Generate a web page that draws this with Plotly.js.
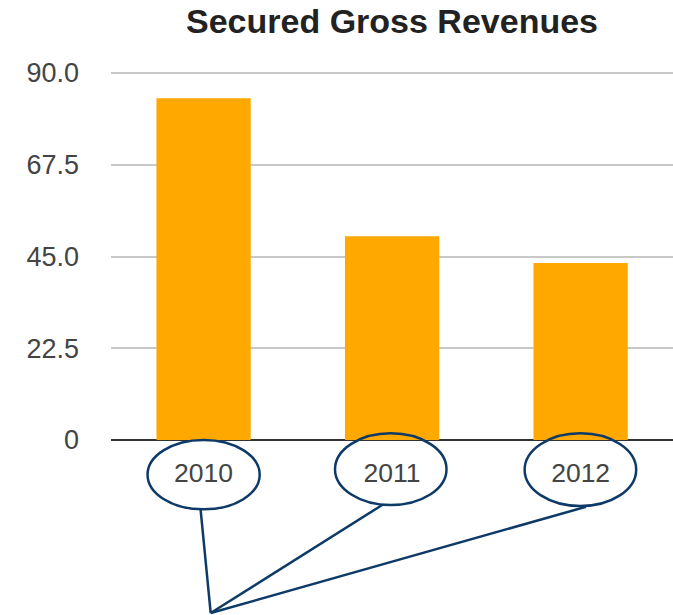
<!DOCTYPE html>
<html>
<head>
<meta charset="utf-8">
<script src="https://cdn.plot.ly/plotly-3.0.1.min.js"></script>
<style>html,body{margin:0;padding:0;background:#fff;}#chart{width:673px;height:615px;}</style>
</head>
<body>
<div id="chart"></div>
<script>
var categories = ['2010', '2011', '2012'];
var revenues = [83.8, 50.0, 43.4];
var yTickVals = [0, 22.5, 45, 67.5, 90];
var yTickText = ['0', '22.5', '45.0', '67.5', '90.0'];
var chartTitle = 'Secured Gross Revenues';

var navy = '#0E3A68';
// annotation overlay (paper coords; plot area spans y 71..440 px)
var ellipses = [
  [0.065, -0.188, 0.2646, 0.0],
  [0.3986, -0.176, 0.597, 0.018],
  [0.736, -0.179, 0.9345, 0.018]
];
var lineStarts = [[0.1594, -0.188], [0.4826, -0.176], [0.8452, -0.181]];
var lineEnd = [0.1774, -0.469];

var shapes = [];
ellipses.forEach(function (e) {
  shapes.push({type: 'circle', xref: 'paper', yref: 'paper', x0: e[0], y0: e[1], x1: e[2], y1: e[3],
    line: {color: navy, width: 2.5}, fillcolor: 'rgba(0,0,0,0)'});
});
lineStarts.forEach(function (s) {
  shapes.push({type: 'line', xref: 'paper', yref: 'paper', x0: s[0], y0: s[1], x1: lineEnd[0], y1: lineEnd[1],
    line: {color: navy, width: 2.5}});
});

var trace = {
  type: 'bar',
  x: categories,
  y: revenues,
  width: 0.5,
  marker: {color: '#FFA800'},
  hoverinfo: 'none'
};

var layout = {
  width: 673,
  height: 615,
  margin: {l: 111, r: 0, t: 71, b: 175, pad: 0},
  paper_bgcolor: '#ffffff',
  plot_bgcolor: '#ffffff',
  showlegend: false,
  font: {family: '"Liberation Sans", Arial, Helvetica, sans-serif', color: '#444'},
  title: {
    text: chartTitle,
    font: {family: '"Liberation Sans", Arial, Helvetica, sans-serif', size: 34, weight: 'bold', color: '#222'},
    xref: 'paper', x: 0.5, xanchor: 'center',
    yref: 'container', y: 0.9654, yanchor: 'middle'
  },
  xaxis: {
    type: 'category',
    range: [-0.491, 2.490],
    showgrid: false,
    showline: false,
    zeroline: false,
    ticks: '',
    ticklabelstandoff: 14,
    tickfont: {size: 26.5, color: '#444'}
  },
  yaxis: {
    range: [0, 90.5],
    tickvals: yTickVals,
    ticktext: yTickText,
    showgrid: true,
    gridcolor: '#c8c8c8',
    gridwidth: 2,
    zeroline: true,
    zerolinecolor: '#333333',
    zerolinewidth: 2,
    showline: false,
    ticks: '',
    ticklabelstandoff: 31,
    tickfont: {size: 27, color: '#444'}
  },
  shapes: shapes
};

Plotly.newPlot('chart', [trace], layout, {displayModeBar: false, staticPlot: true});
</script>
</body>
</html>
